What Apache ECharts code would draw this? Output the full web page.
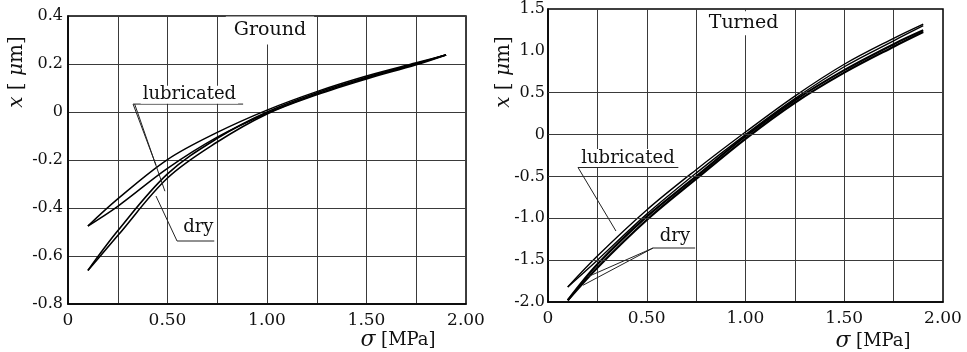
<!DOCTYPE html>
<html><head><meta charset="utf-8">
<script src="https://cdn.jsdelivr.net/npm/echarts@6/dist/echarts.min.js"></script>
<style>html,body{margin:0;padding:0;background:#fff}#c{width:967px;height:352px}</style>
</head><body><div id="c"></div>
<script>
// ---- data (sigma in MPa, x in micrometres) ----
const sigma = [0.1, 0.25, 0.5, 0.75, 1.0, 1.25, 1.5, 1.75, 1.9];

// Ground specimen (left)
const groundLubUpper = [-0.475, -0.362, -0.198, -0.085, 0.008, 0.085, 0.150, 0.205, 0.238];
const groundLubLower = [-0.475, -0.393, -0.235, -0.105, -0.005, 0.075, 0.142, 0.200, 0.238];
const groundDryUpper = [-0.660, -0.495, -0.258, -0.110, 0.000, 0.080, 0.145, 0.202, 0.238];
const groundDryLower = [-0.660, -0.515, -0.275, -0.125, -0.008, 0.072, 0.138, 0.197, 0.238];

// Turned specimen (right)
const turnedLubUpper = [-1.82, -1.45, -0.90, -0.42, 0.03, 0.46, 0.84, 1.15, 1.32];
const turnedLubLower = [-1.82, -1.50, -0.95, -0.46, 0.00, 0.43, 0.81, 1.12, 1.30];
const turnedDryUpper = [-1.98, -1.55, -0.98, -0.50, -0.02, 0.41, 0.77, 1.08, 1.245];
const turnedDryLower = [-1.98, -1.59, -1.02, -0.53, -0.05, 0.38, 0.74, 1.05, 1.225];

// tick labels
const xTickLabels = {0: '0', 0.5: '0.50', 1: '1.00', 1.5: '1.50', 2: '2.00'};
const groundYTicks = ['-0.8', '-0.6', '-0.4', '-0.2', '0', '0.2', '0.4'];
const turnedYTicks = ['-2.0', '-1.5', '-1.0', '-0.5', '0', '0.5', '1.0', '1.5'];
const turnedGridLinesY = [0.5, 0, -0.5, -1.0, -1.5];

const FONT = 'DejaVu Serif';
const chart = echarts.init(document.getElementById('c'), null, {renderer: 'canvas'});

function pts(arr) { return sigma.map((s, i) => [s, arr[i]]); }
function xAxisCfg(g) {
  return {
    gridIndex: g, type: 'value', min: 0, max: 2, interval: 0.25,
    axisLine: {show: true, onZero: false, lineStyle: {color: '#000', width: 1.5}},
    axisTick: {show: false},
    splitLine: {show: true, lineStyle: {color: '#3a3a3a', width: 1}},
    axisLabel: {
      margin: 8, color: '#111', fontFamily: FONT, fontSize: 17,
      formatter: v => { const k = Math.round(v * 100) / 100; return xTickLabels[k] !== undefined ? xTickLabels[k] : ''; }
    }
  };
}
function line(g, arr, w) {
  return {
    type: 'line', xAxisIndex: g, yAxisIndex: g, data: pts(arr), smooth: 0.35,
    showSymbol: false, silent: true, lineStyle: {color: '#000', width: w}
  };
}

const option = {
  animation: false,
  backgroundColor: '#fff',
  grid: [
    {left: 68, top: 16, width: 398, height: 288, show: true, borderColor: '#000', borderWidth: 1.5},
    {left: 548, top: 9, width: 395, height: 293, show: true, borderColor: '#000', borderWidth: 1.5}
  ],
  xAxis: [xAxisCfg(0), xAxisCfg(1)],
  yAxis: [
    {
      gridIndex: 0, type: 'value', min: -0.8, max: 0.4, interval: 0.2,
      axisLine: {show: true, lineStyle: {color: '#000', width: 1.5}},
      axisTick: {show: false},
      splitLine: {show: true, lineStyle: {color: '#3a3a3a', width: 1}},
      axisLabel: {margin: 5, color: '#111', fontFamily: FONT, fontSize: 16,
        formatter: v => groundYTicks[Math.round((v + 0.8) / 0.2)]}
    },
    {
      gridIndex: 1, type: 'value', min: -2.0, max: 1.5, interval: 0.5,
      axisLine: {show: true, lineStyle: {color: '#000', width: 1.5}},
      axisTick: {show: false},
      splitLine: {show: false},
      axisLabel: {margin: 3, color: '#111', fontFamily: FONT, fontSize: 16,
        formatter: v => turnedYTicks[Math.round((v + 2.0) / 0.5)]}
    }
  ],
  series: [
    line(0, groundLubUpper, 1.5), line(0, groundLubLower, 1.5),
    line(0, groundDryUpper, 1.6), line(0, groundDryLower, 1.6),
    line(1, turnedLubUpper, 1.4), line(1, turnedLubLower, 1.4),
    line(1, turnedDryUpper, 2.2), line(1, turnedDryLower, 2.2),
    {
      type: 'line', xAxisIndex: 1, yAxisIndex: 1, data: [], silent: true,
      markLine: {silent: true, symbol: 'none', label: {show: false},
        lineStyle: {color: '#3a3a3a', width: 1, type: 'solid'},
        data: turnedGridLinesY.map(v => ({yAxis: v}))}
    }
  ]
};
chart.setOption(option);

// ---- annotations (placed in data coordinates) ----
function P(g, x, y) { return chart.convertToPixel({gridIndex: g}, [x, y]); }
function seg(g, a, b, w) {
  const p = P(g, a[0], a[1]), q = P(g, b[0], b[1]);
  return {type: 'line', z: 50, silent: true, shape: {x1: p[0], y1: p[1], x2: q[0], y2: q[1]},
    style: {stroke: '#222', lineWidth: w || 1}};
}
function txt(g, x, y, s, size, bg, pad) {
  const p = P(g, x, y);
  return {type: 'text', z: 60, silent: true, x: p[0], y: p[1],
    style: {text: s, fontFamily: FONT, fontSize: size, fill: '#111',
      align: 'center', verticalAlign: 'middle', textAlign: 'center', textVerticalAlign: 'middle',
      backgroundColor: bg ? '#fff' : 'transparent', padding: pad || 0}};
}
const graphics = [
  // titles
  txt(0, 1.015, 0.34, 'Ground', 19, true, [1, 8, 8, 8]),
  txt(1, 0.99, 1.33, 'Turned', 19, true, [1, 8, 4, 8]),
  // left annotations
  txt(0, 0.61, 0.072, 'lubricated', 18, true, [0, 2, 0, 2]),
  seg(0, [0.327, 0.033], [0.88, 0.033]),
  seg(0, [0.327, 0.033], [0.442, -0.221]),
  seg(0, [0.335, 0.033], [0.487, -0.33]),
  txt(0, 0.655, -0.48, 'dry', 18, true, [0, 1, 0, 1]),
  seg(0, [0.548, -0.5375], [0.735, -0.5375]),
  seg(0, [0.548, -0.5375], [0.442, -0.35]),
  // right annotations
  txt(1, 0.405, -0.28, 'lubricated', 18, true, [0, 2, 0, 2]),
  seg(1, [0.152, -0.393], [0.66, -0.393]),
  seg(1, [0.152, -0.393], [0.344, -1.152]),
  txt(1, 0.643, -1.22, 'dry', 18, true, [0, 1, 0, 1]),
  seg(1, [0.532, -1.355], [0.745, -1.355]),
  seg(1, [0.532, -1.355], [0.177, -1.80]),
  seg(1, [0.532, -1.355], [0.2, -1.70])
];
// axis names
function yName(x) {
  return {type: 'text', z: 60, silent: true, x: x, y: 72, rotation: Math.PI / 2,
    style: {text: '{i|x} [ {i|μ}m]', fontFamily: FONT, fontSize: 20, fill: '#111',
      align: 'center', verticalAlign: 'middle', textAlign: 'center', textVerticalAlign: 'middle',
      rich: {i: {fontStyle: 'italic', fontFamily: FONT, fontSize: 20, fill: '#111'}}}};
}
function xName(x, y) {
  return {type: 'text', z: 60, silent: true, x: x, y: y,
    style: {text: '{s|σ} [MPa]', fontFamily: FONT, fontSize: 18, fill: '#111',
      align: 'center', verticalAlign: 'middle', textAlign: 'center', textVerticalAlign: 'middle',
      rich: {s: {fontStyle: 'italic', fontFamily: FONT, fontSize: 22, fill: '#111'}}}};
}
graphics.push(yName(17), yName(504), xName(398, 340), xName(873, 341));
chart.setOption({graphic: graphics});
</script>
</body></html>
